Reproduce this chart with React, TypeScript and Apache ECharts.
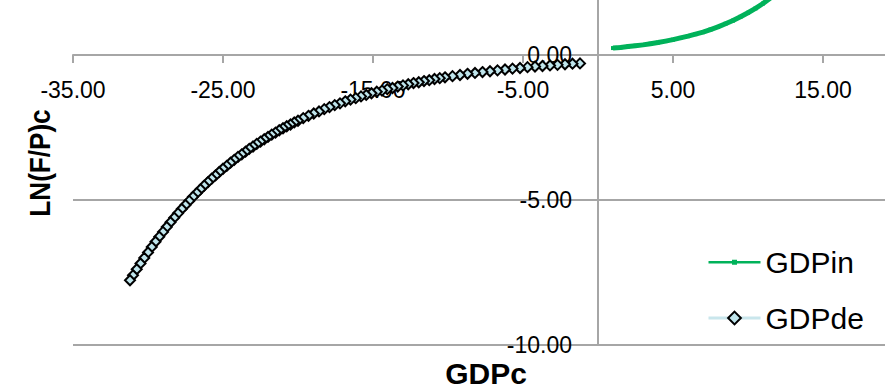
import React, { useEffect, useRef } from "react";
import * as echarts from "echarts";

// GDPin series (x = GDPc, y = LN(F/P)c)
const gdpInX = [1.0, 1.5, 2.0, 2.5, 3.0, 3.5, 4.0, 4.5, 5.0, 5.5, 6.0, 6.5, 7.0, 7.5, 8.0, 8.5, 9.0, 9.5, 10.0, 10.5, 11.0, 11.5, 12.0, 12.5, 13.0];
const gdpInY = [0.24, 0.26, 0.29, 0.32, 0.35, 0.39, 0.43, 0.48, 0.53, 0.59, 0.65, 0.72, 0.79, 0.88, 0.97, 1.08, 1.19, 1.32, 1.46, 1.61, 1.78, 1.97, 2.18, 2.41, 2.66];

// GDPde series, listed from right to left
const gdpDeX = [
  -1.2, -1.7, -2.2, -2.7, -3.2, -3.7, -4.2, -4.7, -5.2, -5.7, -6.2, -6.7, -7.2, -7.7, -8.2, -8.7, -9.2, -9.7, -10.2,
  -10.55, -10.9, -11.25, -11.6, -11.95, -12.3, -12.65, -13.0, -13.35, -13.7, -14.05, -14.4, -14.75, -15.1, -15.45,
  -15.8, -16.15, -16.5, -16.85, -17.2, -17.55, -17.9, -18.25, -18.6, -18.95, -19.3, -19.65, -20.0,
  -20.25, -20.5, -20.75, -21.0, -21.25, -21.5, -21.75, -22.0, -22.25, -22.5, -22.75, -23.0, -23.25, -23.5, -23.75,
  -24.0, -24.25, -24.5, -24.75, -25.0, -25.25, -25.5, -25.75, -26.0, -26.25, -26.5, -26.75, -27.0, -27.25, -27.5,
  -27.75, -28.0, -28.25, -28.5, -28.75, -29.0, -29.25, -29.5, -29.75, -30.0, -30.25, -30.5, -30.75, -31.0, -31.2,
];
const gdpDeY = [
  -0.29, -0.3, -0.32, -0.34, -0.36, -0.38, -0.4, -0.42, -0.45, -0.47, -0.5, -0.53, -0.56, -0.59, -0.62, -0.65, -0.69, -0.73, -0.77,
  -0.8, -0.83, -0.87, -0.9, -0.94, -0.97, -1.01, -1.05, -1.09, -1.14, -1.18, -1.23, -1.27, -1.32, -1.38,
  -1.43, -1.49, -1.54, -1.6, -1.67, -1.73, -1.8, -1.87, -1.95, -2.02, -2.1, -2.18, -2.27,
  -2.33, -2.4, -2.46, -2.53, -2.6, -2.68, -2.75, -2.83, -2.91, -2.99, -3.07, -3.16, -3.24, -3.34, -3.43,
  -3.52, -3.62, -3.72, -3.83, -3.93, -4.04, -4.16, -4.27, -4.39, -4.51, -4.64, -4.77, -4.9, -5.04, -5.18,
  -5.32, -5.47, -5.62, -5.78, -5.94, -6.11, -6.28, -6.45, -6.63, -6.82, -7.01, -7.2, -7.4, -7.61, -7.78,
];

const seriesNames = ["GDPin", "GDPde"];
const xMin = -35, xMax = 25, xStep = 10;
const yMin = -10, yMax = 5, yStep = 5;

const OY = 100; // chart div is shifted up so the crop matches
const CW = 985, CH = 489;
const GL = 73, GR = 973; // grid left/right in px (x = -35 .. 25)
const GT = 10.25, GB = 444.5; // grid top/bottom in chart px (y = 5 .. -10)
const xZeroPx = GL + ((0 - xMin) / (xMax - xMin)) * (GR - GL);
const yZeroPx = GB - ((0 - yMin) / (yMax - yMin)) * (GB - GT);
const REG = "'Liberation Sans', Arial, sans-serif";
const AX = "#a6a6a6";
const GREEN = "#00b25a";

export default function App() {
  const ref = useRef<HTMLDivElement>(null);
  useEffect(() => {
    if (!ref.current) return;
    const chart = echarts.init(ref.current, undefined, { renderer: "svg" });
    const fmt = (v: number) => v.toFixed(2);
    chart.setOption({
      animation: false,
      backgroundColor: "#ffffff",
      grid: { left: GL, right: CW - GR, top: GT, bottom: CH - GB, containLabel: false, outerBoundsMode: "none" },
      xAxis: {
        type: "value",
        min: xMin,
        max: xMax,
        interval: xStep,
        position: "bottom",
        offset: -(GB - yZeroPx),
        axisLine: { onZero: false, lineStyle: { color: AX, width: 2 } },
        axisTick: { show: true, length: 8, lineStyle: { color: AX, width: 2 } },
        axisLabel: { formatter: fmt, fontSize: 23, fontFamily: REG, color: "#000", margin: 23, showMaxLabel: false },
        splitLine: { show: false },
      },
      yAxis: {
        type: "value",
        min: yMin,
        max: yMax,
        interval: yStep,
        position: "left",
        offset: -(xZeroPx - GL),
        axisLine: { onZero: false, lineStyle: { color: AX, width: 2 } },
        axisTick: { show: false },
        axisLabel: { formatter: fmt, fontSize: 23, fontFamily: REG, color: "#000", margin: 26, showMaxLabel: false },
        splitLine: { show: true, lineStyle: { color: AX, width: 2 } },
      },
      legend: {
        orient: "vertical",
        left: 707,
        top: OY + 262 - 17,
        padding: 0,
        itemWidth: 52,
        itemHeight: 16,
        itemGap: 22,
        textStyle: { fontSize: 30, fontFamily: REG, color: "#000", lineHeight: 34 },
        data: [
          {
            name: seriesNames[0],
            icon: "path://M0,0h0.01v0.01h-0.01z M52,16h0.01v0.01h-0.01z M0,7h52v2.6h-52z M23.5,5.8h5v5h-5z",
            itemStyle: { color: GREEN },
          },
          { name: seriesNames[1], lineStyle: { width: 3 } },
        ],
      },
      graphic: [
        {
          type: "text",
          x: 40,
          y: OY + 163,
          rotation: Math.PI / 2,
          scaleX: 0.87,
          style: { text: "LN(F/P)c", font: `bold 30px ${REG}`, fill: "#000", align: "center", verticalAlign: "middle" },
        },
        {
          type: "text",
          x: 486,
          y: OY + 373,
          style: { text: "GDPc", font: `bold 30px ${REG}`, fill: "#000", align: "center", verticalAlign: "middle" },
        },
      ],
      series: [
        {
          name: seriesNames[0],
          type: "line",
          data: gdpInX.map((x, i) => [x, gdpInY[i]]),
          color: GREEN,
          lineStyle: { color: GREEN, width: 5 },
          symbol: "rect",
          symbolSize: 4,
          showSymbol: true,
          itemStyle: { color: GREEN },
        },
        {
          name: seriesNames[1],
          type: "line",
          data: gdpDeX.map((x, i) => [x, gdpDeY[i]]),
          color: "#bfe5ec",
          lineStyle: { color: "#c9e6ec", width: 2 },
          symbol: "diamond",
          symbolSize: 10,
          showSymbol: true,
          itemStyle: { color: "#bfe5ec", borderColor: "#000", borderWidth: 2 },
        },
      ],
    });
    return () => chart.dispose();
  }, []);
  return (
    <div style={{ position: "fixed", left: 0, top: 0, width: 885, height: 389, overflow: "hidden", background: "#fff" }}>
      <div ref={ref} style={{ position: "absolute", left: 0, top: -OY, width: CW, height: CH }} />
    </div>
  );
}
